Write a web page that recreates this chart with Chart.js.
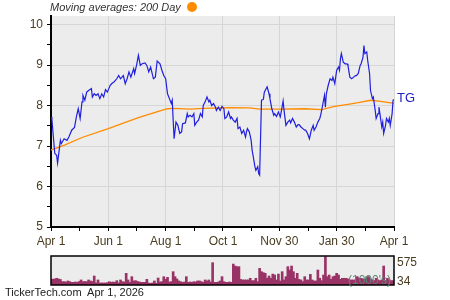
<!DOCTYPE html>
<html><head><meta charset="utf-8">
<script src="https://cdn.jsdelivr.net/npm/chart.js@4.4.1/dist/chart.umd.min.js"></script>
<style>
html,body{margin:0;padding:0;background:#fff;width:450px;height:300px;overflow:hidden;font-family:'Liberation Sans',Arial,sans-serif;}
canvas{position:absolute;left:0;}
#main{top:0;}
#vol{top:250px;}
.t{position:absolute;white-space:pre;font-size:12px;line-height:14px;}
</style></head><body>
<canvas id="main" width="450" height="250"></canvas>
<canvas id="vol" width="450" height="50"></canvas>
<div class="t" style="left:50px;top:1px;font-size:11px;line-height:13px;font-style:italic;color:#333">Moving averages: 200 Day</div>
<div style="position:absolute;left:187px;top:2px;width:10px;height:10px;border-radius:50%;background:#ff8c00"></div>
<div class="t" style="left:397px;top:90px;font-size:13px;line-height:15px;color:#2020c8">TG</div>
<div class="t" style="left:5px;top:286px;font-size:11px;line-height:13px;color:#222">TickerTech.com  Apr 1, 2026</div>
<div class="t" style="left:348px;top:273px;color:#5e8574">(1000's)</div>
<script>
// ---- data (days since Apr 1, 2025) ----
const xTickDays = [0, 61, 122, 183, 243, 304, 365];
const xTickLabels = ['Apr 1', 'Jun 1', 'Aug 1', 'Oct 1', 'Nov 30', 'Jan 30', 'Apr 1'];
const yTickValues = [5, 6, 7, 8, 9, 10];

const priceDays = [
  0,1,4,6,7,10,11,14,17,19,
  22,25,27,29,31,33,34,36,38,40,
  43,44,46,48,50,52,54,56,58,60,
  63,65,67,70,72,74,77,79,81,83,
  85,88,89,91,93,95,97,100,102,104,
  106,109,111,113,116,118,120,122,124,126,
  128,129,130,131,133,135,137,139,140,143,
  145,146,148,150,152,153,155,157,159,161,
  162,164,166,168,169,171,173,175,176,178,
  180,182,184,185,187,189,191,192,194,196,
  198,199,201,203,205,207,208,209,211,213,
  214,215,217,218,220,221,222,224,226,227,
  229,230,232,233,235,237,238,240,242,244,
  245,247,248,250,252,254,255,257,259,261,
  263,264,266,268,270,271,273,275,277,279,
  280,282,284,286,287,289,291,292,293,295,
  297,299,300,302,304,306,307,308,309,311,
  313,315,316,318,320,322,324,325,327,329,
  330,332,333,334,336,337,339,340,342,343,
  345,346,348,349,350,352,353,354,356,357,
  359,360,361,363,364,365
];
const priceValues = [
  7.72,7.64,6.82,6.77,6.58,7.14,7.06,7.18,7.14,7.22,
  7.39,7.46,7.72,7.92,7.68,8.09,8.25,8.13,8.33,8.37,
  8.42,8.21,8.29,8.25,8.29,8.17,8.29,8.21,8.39,8.33,
  8.50,8.55,8.58,8.66,8.74,8.66,8.74,8.54,8.66,8.83,
  8.70,8.91,8.79,8.99,9.24,8.99,9.03,9.05,8.99,8.83,
  8.95,8.66,8.70,9.10,9.03,8.87,8.74,8.66,8.29,8.17,
  8.05,8.13,7.64,7.18,7.59,7.51,7.31,7.35,7.55,7.57,
  7.80,7.72,7.76,7.72,7.80,7.51,7.59,7.64,7.80,7.72,
  8.00,8.09,8.21,8.09,8.13,8.00,8.05,7.96,7.88,7.96,
  7.88,7.98,7.92,7.68,7.72,7.84,7.68,7.72,7.64,7.59,
  7.68,7.43,7.47,7.31,7.39,7.22,7.35,7.43,7.35,7.14,
  6.90,6.77,6.49,6.40,6.49,6.32,6.28,8.13,8.15,8.33,
  8.42,8.46,8.29,8.17,7.92,7.76,7.80,7.73,7.84,7.72,
  7.84,8.11,7.88,7.51,7.59,7.64,7.57,7.68,7.59,7.47,
  7.53,7.53,7.47,7.43,7.39,7.39,7.31,7.18,7.39,7.51,
  7.39,7.47,7.59,7.68,7.76,8.00,8.25,7.96,8.29,8.50,
  8.66,8.62,8.70,8.54,8.87,8.95,8.87,9.15,9.28,9.07,
  9.03,9.03,8.99,8.70,8.66,8.70,8.74,8.74,8.79,8.99,
  9.03,9.19,9.48,9.28,9.32,9.11,8.79,8.37,8.17,8.21,
  7.88,7.68,7.80,7.96,7.80,7.47,7.59,7.31,7.51,7.68,
  7.59,7.68,7.51,7.80,8.13,8.15
];

const maDays = [0,15,33,61,93,116,124,130,148,162,190,211,222,244,270,288,302,316,327,340,351,365];
const maValues = [6.90,7.03,7.21,7.43,7.70,7.87,7.92,7.93,7.91,7.93,7.95,7.94,7.91,7.91,7.92,7.90,7.98,8.03,8.07,8.13,8.10,8.05];

// volume (thousands), one bar every VOL_STEP_DAYS days from day 0
const VOL_STEP_DAYS = 2;
const volValues = [
  110,115,120,133,120,110,66,66,60,80,
  66,53,53,60,53,70,100,66,70,66,
  100,80,70,178,40,100,40,40,40,40,
  46,66,53,60,53,86,40,100,66,60,
  231,100,53,165,80,86,70,60,53,53,
  53,113,40,33,40,80,33,139,60,66,
  165,113,152,60,66,264,165,120,80,66,
  53,60,165,53,60,53,66,60,80,80,
  66,53,100,80,100,60,443,53,53,60,
  80,165,66,53,53,60,53,415,376,363,
  363,110,100,100,100,100,133,86,86,133,
  66,330,264,245,231,133,178,133,217,198,
  100,217,80,264,100,165,363,297,376,264,
  133,231,110,100,66,165,100,100,211,100,
  80,80,297,133,86,198,561,165,198,113,
  165,178,231,198,113,133,133,133,120,100,
  100,100,100,165,133,133,120,120,165,165,
  120,100,86,133,100,86,100,376,86,133,
  100,86,86
];
const volTickValues = [34, 575];
const volMax = 575;

// ---- styles ----
const FONT = "'Liberation Sans', Arial, sans-serif";
const LABEL_COLOR = '#4a3c20';
const GRID_COLOR = '#d6d6d6';
const BG = '#ececec';

// minor x ticks halfway between labelled ones
const xMinor = [];
for (let i = 0; i < xTickDays.length - 1; i++) xMinor.push((xTickDays[i] + xTickDays[i+1]) / 2);
const xAllTicks = xTickDays.concat(xMinor).sort((a,b)=>a-b);
const yAllTicks = [];
for (let i = 0; i < yTickValues.length; i++) {
  yAllTicks.push(yTickValues[i]);
  if (i < yTickValues.length - 1) yAllTicks.push((yTickValues[i] + yTickValues[i+1]) / 2);
}

const bgPlugin = {
  id: 'bg',
  beforeDraw(chart) {
    const a = chart.chartArea, ctx = chart.ctx;
    ctx.save(); ctx.fillStyle = BG;
    ctx.fillRect(a.left, a.top, a.right - a.left, a.bottom - a.top);
    ctx.restore();
  }
};

new Chart(document.getElementById('main'), {
  type: 'line',
  data: {
    datasets: [
      {
        label: 'TG',
        data: priceDays.map((d, i) => ({x: d, y: priceValues[i]})),
        borderColor: '#1f1fe0', borderWidth: 1.2, pointRadius: 0, tension: 0, fill: false
      },
      {
        label: '200 Day',
        data: maDays.map((d, i) => ({x: d, y: maValues[i]})),
        borderColor: '#ff8c00', borderWidth: 1.3, pointRadius: 0, tension: 0, fill: false
      }
    ]
  },
  options: {
    responsive: false, animation: false, devicePixelRatio: 1,
    layout: { padding: { left: 0, top: 16, right: 56, bottom: 0 } },
    plugins: { legend: { display: false }, tooltip: { enabled: false } },
    scales: {
      x: {
        type: 'linear', min: 0, max: 365,
        afterBuildTicks: s => { s.ticks = xAllTicks.map(v => ({value: v})); },
        afterFit: s => { s.height = 23; },
        ticks: {
          autoSkip: false, maxRotation: 0, padding: 3, color: LABEL_COLOR,
          font: { family: FONT, size: 12 },
          callback: v => { const i = xTickDays.indexOf(v); return i >= 0 ? xTickLabels[i] : ''; }
        },
        grid: {
          color: c => (c.tick && xTickDays.indexOf(c.tick.value) >= 0) ? GRID_COLOR : 'rgba(0,0,0,0)',
          tickColor: '#000', tickLength: 4, lineWidth: 1
        },
        border: { color: '#000', width: 2 }
      },
      y: {
        type: 'linear', min: 5, max: 10.21,
        afterBuildTicks: s => { s.ticks = yAllTicks.map(v => ({value: v})); },
        afterFit: s => { s.width = 51; },
        ticks: {
          padding: 4, color: LABEL_COLOR, font: { family: FONT, size: 12 },
          callback: v => yTickValues.indexOf(v) >= 0 ? String(v) : ''
        },
        grid: {
          color: c => (c.tick && yTickValues.indexOf(c.tick.value) >= 0) ? GRID_COLOR : 'rgba(0,0,0,0)',
          tickColor: '#000', tickLength: 4, lineWidth: 1
        },
        border: { color: '#000', width: 2 }
      }
    }
  },
  plugins: [bgPlugin]
});

const volPlugin = {
  id: 'volframe',
  afterDraw(chart) {
    const a = chart.chartArea, ctx = chart.ctx, ys = chart.scales.y;
    ctx.save();
    ctx.strokeStyle = '#000'; ctx.lineWidth = 1.5;
    ctx.strokeRect(a.left, a.top, a.right - a.left, a.bottom - a.top);
    ctx.fillStyle = LABEL_COLOR; ctx.font = '12px ' + FONT;
    ctx.textAlign = 'left'; ctx.textBaseline = 'middle';
    const offs = [-2, 6.6];
    volTickValues.forEach((v, i) => {
      ctx.fillText(String(v), a.right + 3, ys.getPixelForValue(v) + offs[i]);
    });
    ctx.restore();
  }
};

new Chart(document.getElementById('vol'), {
  type: 'bar',
  data: {
    datasets: [{
      data: volValues.map((v, i) => ({x: i * VOL_STEP_DAYS, y: v})),
      backgroundColor: '#993366', borderWidth: 0, barThickness: 2
    }]
  },
  options: {
    responsive: false, animation: false, devicePixelRatio: 1,
    layout: { padding: { left: 51, top: 6, right: 56, bottom: 15 } },
    plugins: { legend: { display: false }, tooltip: { enabled: false } },
    scales: {
      x: { type: 'linear', min: 0, max: 365, display: false, offset: false },
      y: { type: 'linear', min: 0, max: volMax, display: false }
    }
  },
  plugins: [bgPlugin, volPlugin]
});
</script>
</body></html>
